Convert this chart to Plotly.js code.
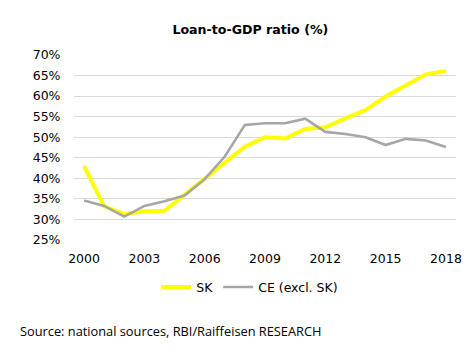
<!DOCTYPE html>
<html>
<head>
<meta charset="utf-8">
<script src="https://cdn.plot.ly/plotly-3.0.1.min.js"></script>
<style>html,body{margin:0;padding:0;background:#fff;}#chart{width:475px;height:358px;}</style>
</head>
<body>
<div id="chart"></div>
<script>
const years = [2000,2001,2002,2003,2004,2005,2006,2007,2008,2009,2010,2011,2012,2013,2014,2015,2016,2017,2018];
const skValues = [43.0,33.2,31.3,32.0,32.1,36.0,39.6,43.7,47.7,50.0,49.7,52.0,52.4,54.6,56.6,59.9,62.7,65.3,66.1];
const ceValues = [34.6,33.3,30.7,33.3,34.4,35.8,39.8,45.3,53.0,53.4,53.4,54.5,51.3,50.8,50.0,48.1,49.6,49.2,47.6];
const xTicks = [2000,2003,2006,2009,2012,2015,2018];
const yTicks = [25,30,35,40,45,50,55,60,65,70];
const seriesNames = ["SK","CE (excl. SK)"];

const font = "'DejaVu Sans', sans-serif";
const traces = [
  {x: years, y: skValues, name: seriesNames[0], type: "scatter", mode: "lines",
   line: {color: "#FFFF00", width: 4}},
  {x: years, y: ceValues, name: seriesNames[1], type: "scatter", mode: "lines",
   line: {color: "#A6A6A6", width: 2.6}}
];
const layout = {
  width: 475, height: 358,
  margin: {l: 74, r: 19, t: 55, b: 117.5},
  paper_bgcolor: "#fff", plot_bgcolor: "#fff",
  font: {family: font, size: 13, color: "#000"},
  title: {text: "<b>Loan-to-GDP ratio (%)</b>", x: 0.527, xanchor: "center", y: 0.917, yanchor: "middle",
          font: {family: font, size: 12.6, color: "#000"}},
  xaxis: {range: [1999.5, 2018.5], tickvals: xTicks, ticktext: xTicks.map(String),
          showgrid: false, zeroline: false, showline: false, ticks: "outside", ticklen: 7, tickcolor: "rgba(0,0,0,0)",
          tickfont: {family: font, size: 12.5, color: "#000"}, fixedrange: true},
  yaxis: {range: [25, 70], tickvals: yTicks, ticktext: yTicks.map(v => v + "%"),
          showgrid: true, gridcolor: "#D9D9D9", gridwidth: 1, zeroline: false, showline: false,
          ticks: "outside", ticklen: 10, tickcolor: "rgba(0,0,0,0)", tickfont: {family: font, size: 12.5, color: "#000"}, fixedrange: true},
  showlegend: true,
  legend: {orientation: "h", x: 0.46, xanchor: "center", y: -0.256, yanchor: "middle",
           font: {family: font, size: 12.5, color: "#000"}, itemwidth: 30, tracegroupgap: 0},
  annotations: [{text: "Source: national sources, RBI/Raiffeisen RESEARCH", xref: "paper", yref: "paper",
    x: -0.147, xanchor: "left", y: -0.49, yanchor: "middle", showarrow: false,
    font: {family: "'Open Sans', sans-serif", size: 12.8, color: "#000"}}]
};
Plotly.newPlot("chart", traces, layout, {displayModeBar: false, staticPlot: true});
</script>
</body>
</html>
